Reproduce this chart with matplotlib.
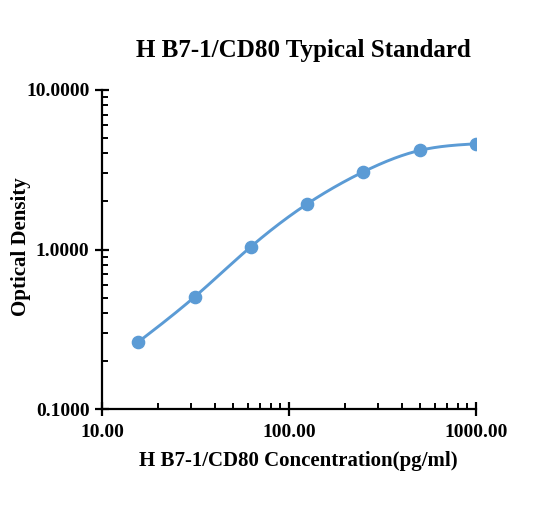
import numpy as np
import matplotlib.pyplot as plt
from matplotlib.ticker import FixedLocator, LogLocator, NullFormatter

# standard curve data
conc = [15.625, 31.25, 62.5, 125, 250, 500, 1000]
od = [0.263, 0.504, 1.04, 1.93, 3.07, 4.18, 4.60]

x_ticks = [10, 100, 1000]
x_labels = ["10.00", "100.00", "1000.00"]
y_ticks = [0.1, 1, 10]
y_labels = ["0.1000", "1.0000", "10.0000"]

blue = "#5B9BD5"
plt.rcParams['font.family'] = ['Liberation Serif', 'DejaVu Serif']
plt.rcParams['font.weight'] = 'bold'


def natural_spline(x, y, xs):
    # smooth curve through the points (natural cubic spline)
    x = np.asarray(x)
    y = np.asarray(y)
    n = len(x)
    h = np.diff(x)
    A = np.zeros((n, n))
    b = np.zeros(n)
    A[0, 0] = A[-1, -1] = 1
    for i in range(1, n - 1):
        A[i, i - 1] = h[i - 1]
        A[i, i] = 2 * (h[i - 1] + h[i])
        A[i, i + 1] = h[i]
        b[i] = 6 * ((y[i + 1] - y[i]) / h[i] - (y[i] - y[i - 1]) / h[i - 1])
    M = np.linalg.solve(A, b)
    idx = np.clip(np.searchsorted(x, xs) - 1, 0, n - 2)
    t0 = x[idx + 1] - xs
    t1 = xs - x[idx]
    hi = h[idx]
    return (M[idx] * t0**3 + M[idx + 1] * t1**3) / (6 * hi) \
        + (y[idx] / hi - M[idx] * hi / 6) * t0 + (y[idx + 1] / hi - M[idx + 1] * hi / 6) * t1


fig = plt.figure(figsize=(5.51, 5.12), dpi=100)
ax = fig.add_axes([102 / 551, 1 - 409 / 512, 374 / 551, 319 / 512])

lx = np.log10(conc)
ly = np.log10(od)
xs = np.linspace(lx[0], lx[-1], 300)
ax.plot(10 ** xs, 10 ** natural_spline(lx, ly, xs), color=blue, lw=2.1, zorder=2)
ax.plot(conc, od, "o", color=blue, ms=8.8, zorder=3)

ax.set_xscale("log")
ax.set_yscale("log")
ax.set_xlim(10, 1000)
ax.set_ylim(0.1, 10)
ax.xaxis.set_major_locator(FixedLocator(x_ticks))
ax.set_xticklabels(x_labels)
ax.yaxis.set_major_locator(FixedLocator(y_ticks))
ax.set_yticklabels(y_labels)
ax.xaxis.set_minor_locator(LogLocator(base=10, subs=np.arange(2, 10)))
ax.yaxis.set_minor_locator(LogLocator(base=10, subs=np.arange(2, 10)))
ax.xaxis.set_minor_formatter(NullFormatter())
ax.yaxis.set_minor_formatter(NullFormatter())

for s in ["top", "right"]:
    ax.spines[s].set_visible(False)
for s in ["left", "bottom"]:
    ax.spines[s].set_linewidth(1.6)

ax.tick_params(which="major", direction="inout", length=10, width=1.6, labelsize=14)
ax.tick_params(axis="y", which="major", pad=4)
ax.tick_params(axis="x", which="major", pad=6)
ax.tick_params(which="minor", direction="in", length=4.5, width=1.4)

ax.set_xlabel("H B7-1/CD80 Concentration(pg/ml)", fontsize=15, fontweight="bold", labelpad=7)
ax.xaxis.label.set_x(0.525)
ax.set_ylabel("Optical Density", fontsize=15, fontweight="bold")
ax.yaxis.set_label_coords(-0.19, 0.509)
fig.text(0.551, 1 - 50 / 512, "H B7-1/CD80 Typical Standard", fontsize=18, fontweight="bold",
         ha="center", va="center")

fig.savefig("out.png", dpi=100)
